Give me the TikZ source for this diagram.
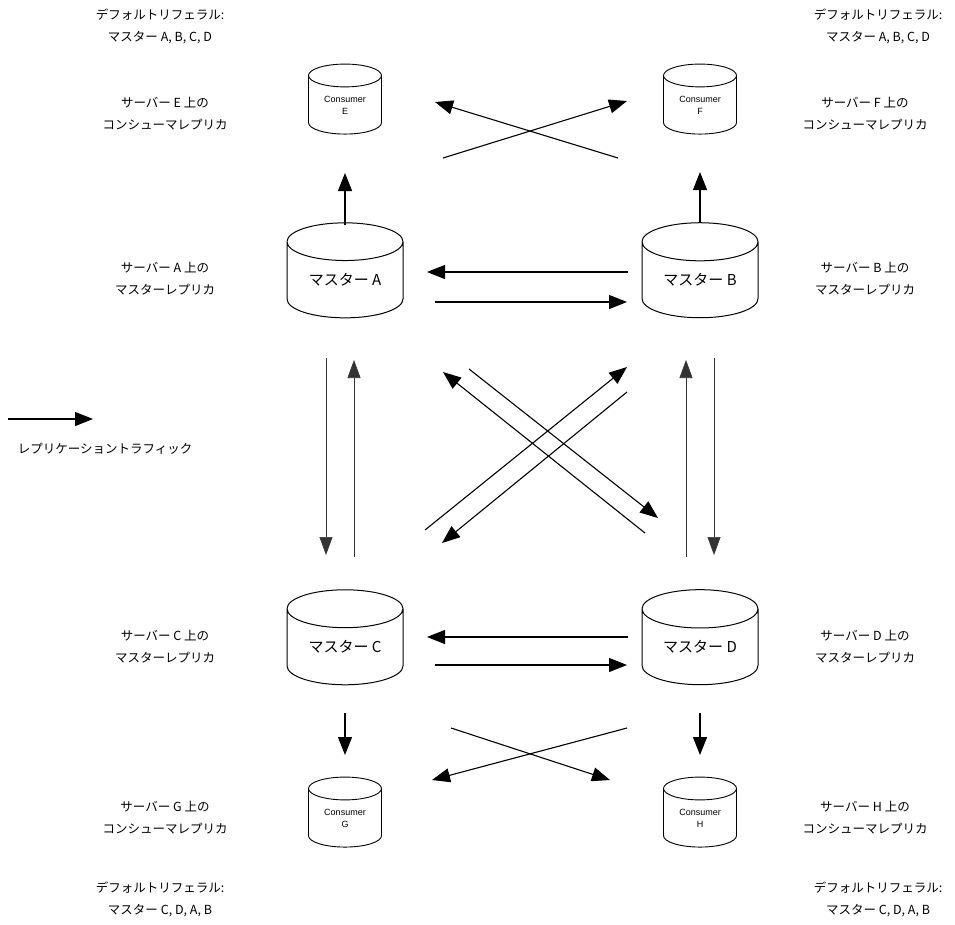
\documentclass[tikz,border=0pt]{standalone}
\usepackage{fontspec}
\setmainfont{Liberation Sans}
\newfontfamily\jpfont{Noto Sans CJK JP}
\usepackage{tikz}
\usetikzlibrary{arrows.meta, shapes.geometric, calc}
\definecolor{rline}{HTML}{000000}
\definecolor{rthin}{HTML}{333333}
\tikzset{
  mcyl/.style={cylinder, shape border rotate=90, draw=rline, line width=1pt,
               aspect=0.52, minimum width=116pt, minimum height=95pt,
               inner sep=0pt, font=\jpfont\fontsize{15}{18}\selectfont},
  ccyl/.style={cylinder, shape border rotate=90, draw=rline, line width=0.9pt,
               aspect=0.55, minimum width=73pt, minimum height=70pt,
               inner sep=0pt, align=center, font=\fontsize{9}{12}\selectfont},
  lbl/.style={align=center, font=\jpfont\fontsize{12.5}{22}\selectfont},
  arr/.style={-{Triangle[length=18pt,width=14pt]}, line width=1.1pt, rline},
  tarr/.style={-{Triangle[length=18pt,width=13pt]}, line width=0.6pt, rthin},
}
\begin{document}
\begin{tikzpicture}[x=1pt, y=-1pt]
  \useasboundingbox (0,0) rectangle (955,924);

  \node[ccyl] (cE) at (345,105) {Consumer\\E};
  \node[ccyl] (cF) at (700,105) {Consumer\\F};
  \node[mcyl] (mA) at (345,280) {マスター A};
  \node[mcyl] (mB) at (700,280) {マスター B};
  \node[mcyl] (mC) at (345,647) {マスター C};
  \node[mcyl] (mD) at (700,647) {マスター D};
  \node[ccyl] (cG) at (345,818) {Consumer\\G};
  \node[ccyl] (cH) at (700,818) {Consumer\\H};

  \node[lbl] (refE) at (160,26) {デフォルトリフェラル:\\マスター A, B, C, D};
  \node[lbl] (refF) at (878,26) {デフォルトリフェラル:\\マスター A, B, C, D};
  \node[lbl] (refG) at (160,899) {デフォルトリフェラル:\\マスター C, D, A, B};
  \node[lbl] (refH) at (878,899) {デフォルトリフェラル:\\マスター C, D, A, B};

  \node[lbl] (lE) at (165,114) {サーバー E 上の\\コンシューマレプリカ};
  \node[lbl] (lF) at (865,114) {サーバー F 上の\\コンシューマレプリカ};
  \node[lbl] (lA) at (165,279) {サーバー A 上の\\マスターレプリカ};
  \node[lbl] (lB) at (865,279) {サーバー B 上の\\マスターレプリカ};
  \node[lbl] (lC) at (165,647) {サーバー C 上の\\マスターレプリカ};
  \node[lbl] (lD) at (865,647) {サーバー D 上の\\マスターレプリカ};
  \node[lbl] (lG) at (165,818) {サーバー G 上の\\コンシューマレプリカ};
  \node[lbl] (lH) at (865,818) {サーバー H 上の\\コンシューマレプリカ};

  \coordinate (legA) at (8,419);
  \coordinate (legB) at (93,419);
  \draw[arr] (legA) -- (legB);
  \node[lbl] (legtxt) at (105,449) {レプリケーショントラフィック};

  \draw[arr] ($(mA)+(0,-55)$) -- ($(cE)+(0,68)$);
  \draw[arr] ($(mB)+(0,-57)$) -- ($(cF)+(0,67)$);
  \draw[arr] ($(mA)+(98,-122)$) -- ($(cF)+(-73,-4)$);
  \draw[arr] ($(mB)+(-82,-122)$) -- ($(cE)+(90,-3)$);

  \draw[arr] ($(mB)+(-72,-8)$) -- ($(mA)+(82,-8)$);
  \draw[arr] ($(mA)+(90,22)$) -- ($(mB)+(-73,22)$);
  \draw[arr] ($(mD)+(-72,-10)$) -- ($(mC)+(82,-10)$);
  \draw[arr] ($(mC)+(90,18)$) -- ($(mD)+(-73,18)$);

  \draw[tarr] ($(mA)+(-19,78)$) -- ($(mC)+(-19,-92)$);
  \draw[tarr] ($(mC)+(9,-90)$) -- ($(mA)+(9,80)$);
  \draw[tarr] ($(mD)+(-14,-90)$) -- ($(mB)+(-14,80)$);
  \draw[tarr] ($(mB)+(14,78)$) -- ($(mD)+(14,-92)$);

  \draw[arr] ($(mD)+(-55,-114)$) -- ($(mA)+(98,92)$);
  \draw[arr] ($(mA)+(124,89)$) -- ($(mD)+(-42,-129)$);
  \draw[arr] ($(mC)+(80,-117)$) -- ($(mB)+(-73,87)$);
  \draw[arr] ($(mB)+(-73,112)$) -- ($(mC)+(97,-104)$);

  \draw[arr] ($(mC)+(0,66)$) -- ($(cG)+(0,-63)$);
  \draw[arr] ($(mD)+(0,66)$) -- ($(cH)+(0,-63)$);
  \draw[arr] ($(mC)+(106,81)$) -- ($(cH)+(-90,-38)$);
  \draw[arr] ($(mD)+(-73,81)$) -- ($(cG)+(87,-38)$);
\end{tikzpicture}
\end{document}
